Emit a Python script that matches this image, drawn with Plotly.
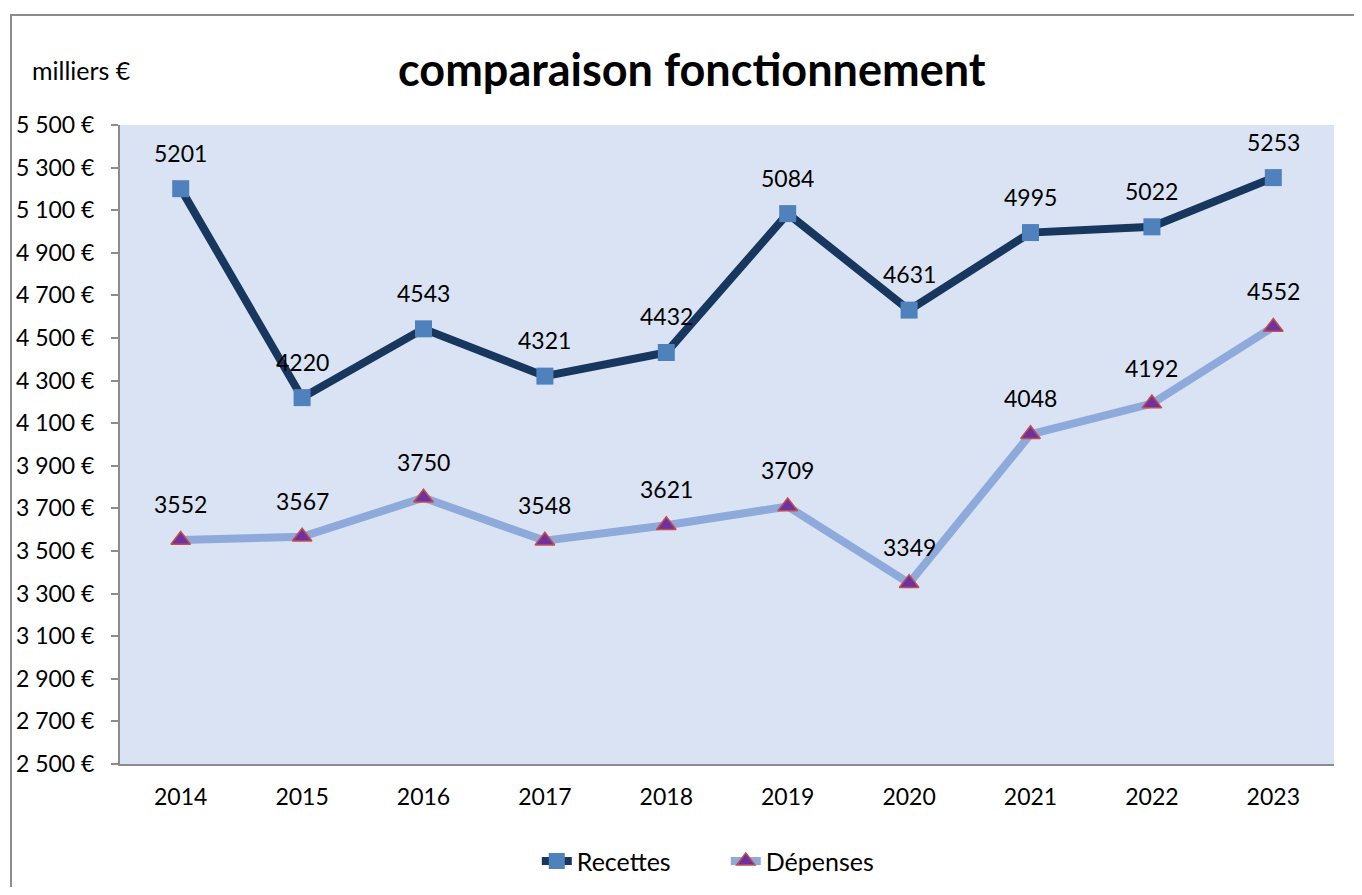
import plotly.graph_objects as go

years = ["2014", "2015", "2016", "2017", "2018", "2019", "2020", "2021", "2022", "2023"]
recettes = [5201, 4220, 4543, 4321, 4432, 5084, 4631, 4995, 5022, 5253]
depenses = [3552, 3567, 3750, 3548, 3621, 3709, 3349, 4048, 4192, 4552]
y_ticks = [2500, 2700, 2900, 3100, 3300, 3500, 3700, 3900, 4100, 4300, 4500, 4700, 4900, 5100, 5300, 5500]
y_tick_text = ["2 500 €", "2 700 €", "2 900 €", "3 100 €", "3 300 €", "3 500 €", "3 700 €", "3 900 €",
               "4 100 €", "4 300 €", "4 500 €", "4 700 €", "4 900 €", "5 100 €", "5 300 €", "5 500 €"]

FONT = "Lato, Open Sans, sans-serif"

fig = go.Figure()
fig.add_trace(go.Scatter(
    x=years, y=recettes, name="Recettes", mode="lines+markers",
    line=dict(color="#17375E", width=8),
    marker=dict(symbol="square", size=17, color="#4F81BD", line=dict(width=0)),
))
fig.add_trace(go.Scatter(
    x=years, y=depenses, name="Dépenses", mode="lines+markers",
    line=dict(color="#8EAADB", width=8),
    marker=dict(symbol="triangle-up", size=17, color="#7030A0", line=dict(color="#C0504D", width=1.5)),
))

for series in (recettes, depenses):
    for i, yv in enumerate(series):
        fig.add_annotation(x=i, y=yv, text=str(yv), showarrow=False, yshift=36,
                           font=dict(family=FONT, size=23, color="#000000"))

fig.add_annotation(xref="paper", yref="paper", x=0.471, y=1.0, yshift=56, text="<b>comparaison fonctionnement</b>",
                   showarrow=False, font=dict(family=FONT, size=45, color="#000000"), xanchor="center", yanchor="middle")
fig.add_annotation(xref="paper", yref="paper", x=-0.074, y=1.0, yshift=55, text="milliers €",
                   showarrow=False, font=dict(family=FONT, size=25, color="#000000"), xanchor="left", yanchor="middle")

fig.add_shape(type="rect", xref="paper", yref="paper", x0=-0.0898, x1=1.06, y0=-0.25, y1=1.172,
              line=dict(color="#8C8C8C", width=2), fillcolor="rgba(0,0,0,0)", layer="below")

fig.update_layout(
    width=1354, height=879,
    margin=dict(l=112, r=28, t=117, b=123, autoexpand=False),
    paper_bgcolor="white", plot_bgcolor="#DAE3F3",
    font=dict(family=FONT, size=23, color="#000000"),
    showlegend=True,
    legend=dict(orientation="h", x=0.499, xanchor="center", y=-0.152, yanchor="middle",
                font=dict(family=FONT, size=25), traceorder="normal",
                entrywidth=144, entrywidthmode="pixels"),
)
fig.update_xaxes(type="category", range=[-0.5, 9.5], showline=True, linecolor="#8C8C8C", linewidth=2,
                 ticks="", showgrid=False, ticklabelstandoff=11, tickfont=dict(size=23))
fig.update_yaxes(range=[2500, 5500], tickvals=y_ticks, ticktext=y_tick_text, showline=True,
                 linecolor="#8C8C8C", linewidth=2, ticks="outside", ticklen=7, tickcolor="#8C8C8C",
                 tickwidth=2, showgrid=False, zeroline=False, ticklabelstandoff=12, tickfont=dict(size=23))

fig.write_html("out.html")
